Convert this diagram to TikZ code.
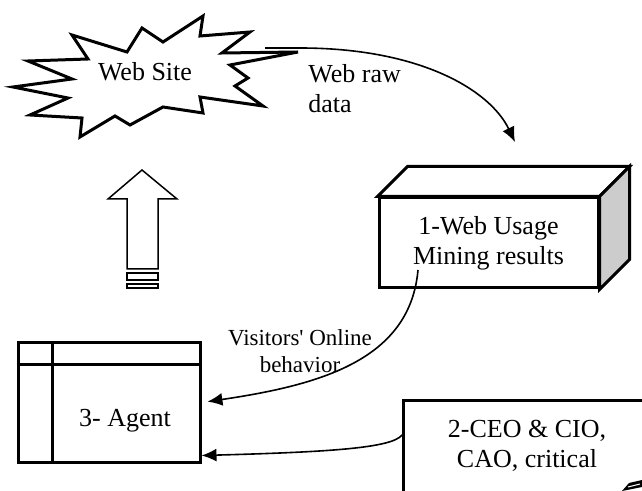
\documentclass[tikz,border=0pt]{standalone}
\usepackage{fontspec}
\setmainfont{Liberation Serif}
\usetikzlibrary{arrows.meta,calc}

\begin{document}
\begin{tikzpicture}[
        x=0.5pt, y=-0.5pt,
        every node/.style={font=\fontsize{13}{15}\selectfont, inner sep=0pt},
        thick line/.style={line width=1.5pt},
        flow/.style={draw, line width=0.8pt, -{Latex[length=7.5pt,width=6.5pt]}},
        small label/.style={font=\fontsize{11.5}{13.5}\selectfont, align=center}
        ]
        \clip (0,0) rectangle (642,491);

        \draw[thick line, fill=white] (13,87) -- (72,79) -- (28,61) -- (88,59) -- (72,35)
            -- (127,52) -- (142,28) -- (163,42) -- (203,16) -- (200,36) -- (250,32)
            -- (222,53) -- (298,52) -- (230,65) -- (248,78) -- (235,86) -- (263,106)
            -- (200,97) -- (203,113) -- (163,107) -- (130,125) -- (115,116) -- (80,137)
            -- (82,118) -- (30,115) -- (68,98) -- cycle;
        \node (site) at (145,72) {Web Site};
        \coordinate (sitetip) at (265,48);

        \node[draw, thick line, minimum width=109.5pt, minimum height=45pt, align=center]
            (wum) at (488.5,243) {1-Web Usage\\Mining results};
        \draw[thick line, fill=white] (wum.north west) -- ++(30,-30)
            -- ($(wum.north east)+(30,-30)$) -- (wum.north east) -- cycle;
        \draw[thick line, fill=gray!40] (wum.north east) -- ++(30,-30)
            -- ($(wum.south east)+(30,-30)$) -- (wum.south east) -- cycle;
        \coordinate (rawend) at (515,142);
        \coordinate (visstart) at (418,270);

        \begin{scope}[line width=0.75pt]
        \draw[fill=white] (142,170) -- (177,199) -- (158,199) -- (158,269) -- (127,269)
            -- (127,199) -- (108,199) -- cycle;
        \draw[line width=1pt] (127,273) rectangle (158,280);
        \draw[line width=1pt] (127,284) rectangle (158,288);
        \end{scope}

        \node[draw, thick line, minimum width=91pt, minimum height=59.5pt] (agent) at (109,402.5) {};
        \draw[thick line] ($(agent.north west)+(0,23)$) -- ($(agent.north east)+(0,23)$);
        \draw[thick line] ($(agent.north west)+(36,0)$) -- ($(agent.south west)+(36,0)$);
        \node (agentlbl) at (125,421) {3- Agent};

        \node[draw, thick line, anchor=north west, minimum width=150pt, minimum height=80pt]
            (ceo) at (402,399) {};
        \node[align=center] (ceolbl) at (527,446) {2-CEO \& CIO,\\CAO, critical};
        \fill (622,491) -- (629,483) -- (642,480) -- (642,487) -- cycle;
        \draw[white, line width=0.5pt] (628,487) -- (640,484);

        \node[anchor=north west, align=left] (rawlbl) at (308,64) {Web raw\\data};
        \node[small label] (vislbl) at (300,351) {Visitors\textquotesingle{} Online\\behavior};

        \draw[flow] (sitetip) -- (300,48) .. controls (420,48) and (490,90) .. (rawend);
        \draw[flow, shorten >=3pt] (visstart) .. controls (410,360) and (320,385) .. (agent.east);
        \draw[flow] ($(ceo.north west)+(0,36)$) .. controls (392,448) and (330,452)
            .. ($(agent.south east)+(0,-8)$);
    \end{tikzpicture}
\end{document}
